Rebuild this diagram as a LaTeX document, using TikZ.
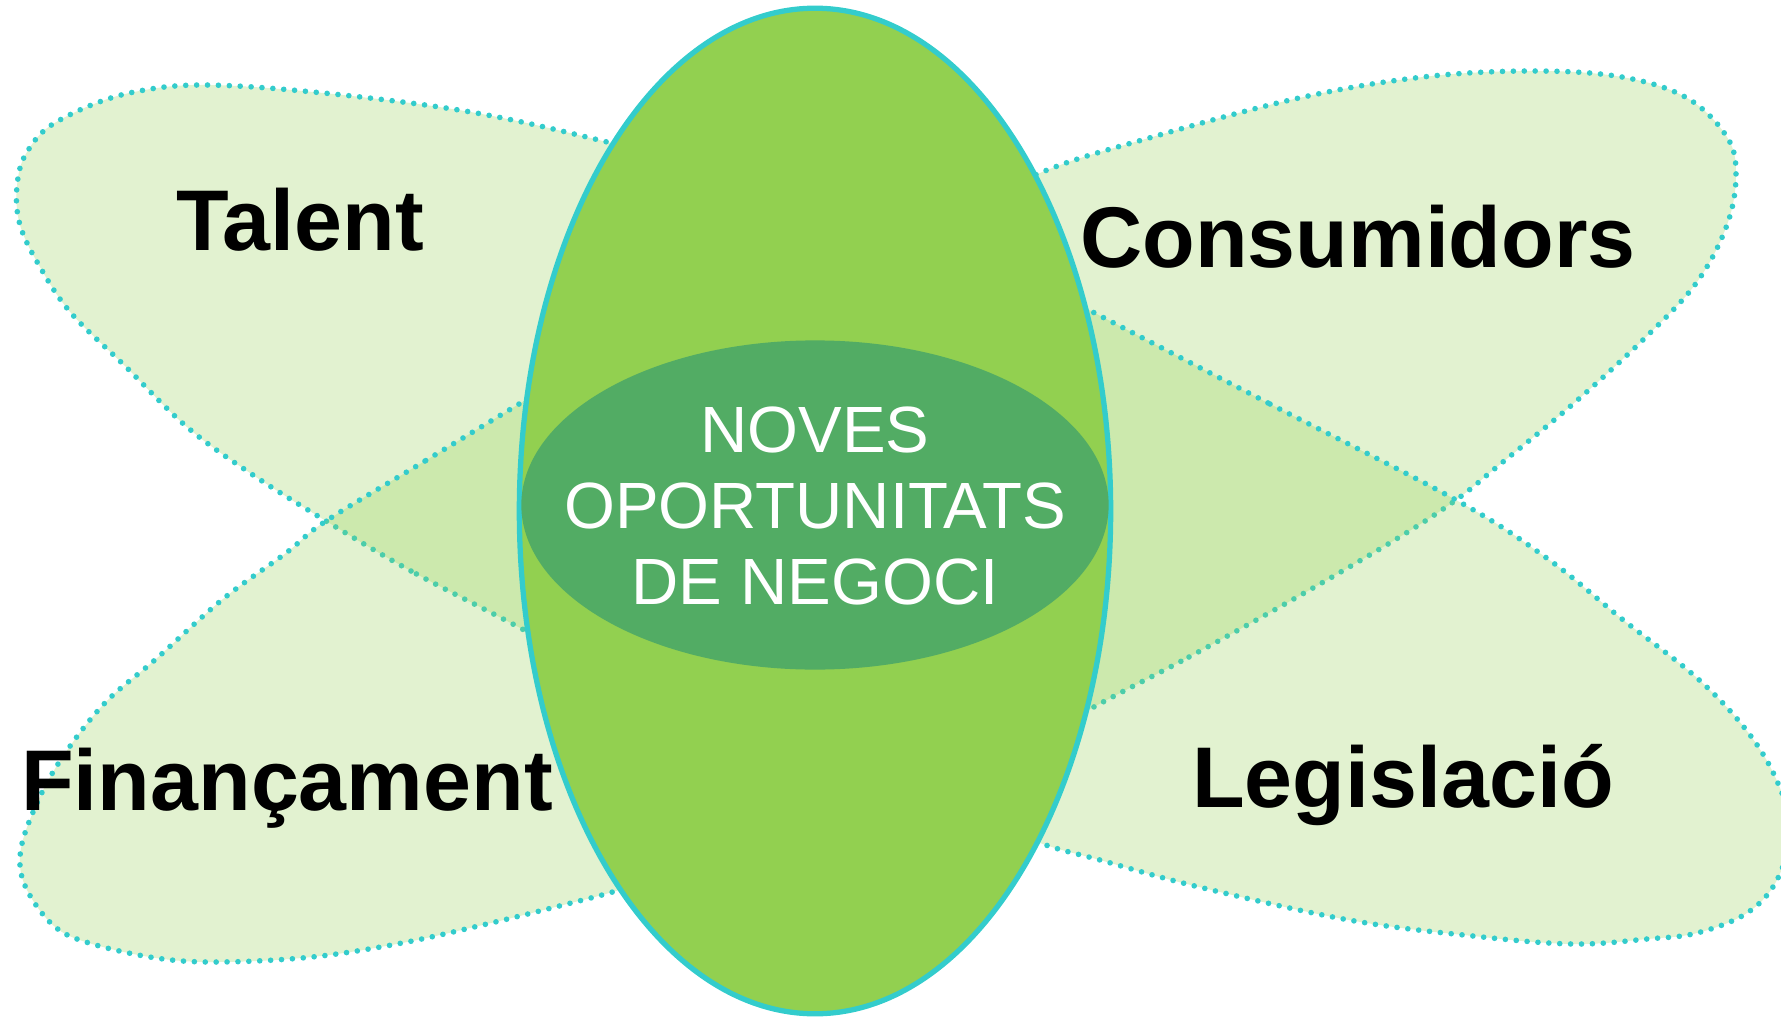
\documentclass[tikz,border=0pt]{standalone}
\usepackage{fontspec}
\setmainfont{Liberation Sans}
\usetikzlibrary{shapes.geometric}
\definecolor{leafgreen}{HTML}{92D050}
\definecolor{rimcyan}{HTML}{33CCCC}
\definecolor{coregreen}{RGB}{82,172,100}
\begin{document}
\begin{tikzpicture}[x=0.01cm, y=-0.01cm,
    petal/.style={draw=rimcyan, line width=1.6pt, line cap=round,
      dash pattern=on 0pt off 3.1pt, fill=leafgreen, fill opacity=0.27},
    topic/.style={anchor=base, inner sep=0pt, text=black,
      font=\fontsize{24.5}{29}\selectfont\bfseries},
    hub/.style={ellipse, inner sep=0pt, fill=leafgreen,
      draw=rimcyan, line width=1.5pt},
    chance/.style={ellipse, inner sep=0pt, fill=coregreen}]
  \useasboundingbox (0,0) rectangle (1781,1018);
  % the four petals
  \draw[petal] plot[smooth cycle, tension=0.6] coordinates {
    (524,630) (411,571) (326,521) (250,473) (187,427) (125,366)
    (71,313) (40,267) (20,225) (17,186) (27,152) (58,121) (134,92)
    (237,86) (446,108) (607,142) (720,175) (760,420) (660,705)};
  \draw[petal] plot[smooth cycle, tension=0.6] coordinates {
    (524,401) (425,461) (326,521) (286,553) (223,599) (156,659)
    (103,705) (58,764) (31,817) (20,857) (27,890) (54,926) (89,943)
    (156,958) (219,962) (312,957) (402,943) (491,923) (571,903)
    (616,891) (720,860) (760,600) (650,325)};
  \draw[petal] plot[smooth cycle, tension=0.6] coordinates {
    (1092,708) (1189,657) (1299,596) (1398,538) (1456,500) (1498,466)
    (1573,404) (1647,336) (1697,282) (1727,225) (1736,175) (1727,137)
    (1687,98) (1622,77) (1533,71) (1423,77) (1299,98) (1149,138)
    (1040,173) (930,230) (880,450) (980,772)};
  \draw[petal] plot[smooth cycle, tension=0.6] coordinates {
    (1087,309) (1270,404) (1456,500) (1548,559) (1622,619) (1697,678)
    (1747,731) (1777,781) (1790,830) (1777,880) (1747,913) (1697,933)
    (1647,939) (1573,944) (1473,936) (1349,920) (1199,887) (1100,860)
    (1037,842) (930,800) (880,500) (980,253)};
  % centre
  \node[hub, minimum width=5.91cm, minimum height=10.05cm] (core) at (815,511) {};
  \node[chance, minimum width=5.87cm, minimum height=3.29cm] (chance) at (815,505) {};
  \node[text=white, align=center, font=\fontsize{18.6}{21.6}\selectfont]
    (chancetext) at (815,506) {NOVES\\OPORTUNITATS\\DE NEGOCI};
  % labels
  \node[topic] (talent) at (300,250) {Talent};
  \node[topic] (consumers) at (1358,267) {Consumidors};
  \node[topic] (funding) at (287,810) {Finançament};
  \node[topic] (law) at (1403,807) {Legislació};
\end{tikzpicture}
\end{document}
